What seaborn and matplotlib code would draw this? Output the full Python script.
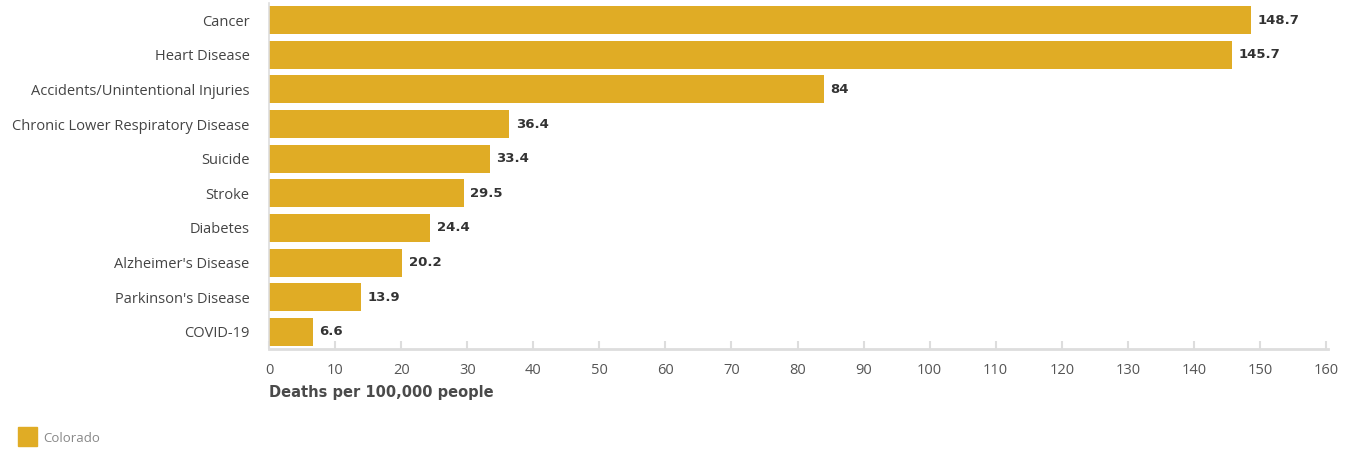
import matplotlib
matplotlib.use("Agg")
import matplotlib.pyplot as plt
import seaborn as sns
import pandas as pd

causes = [
    "Cancer", "Heart Disease", "Accidents/Unintentional Injuries",
    "Chronic Lower Respiratory Disease", "Suicide", "Stroke", "Diabetes",
    "Alzheimer's Disease", "Parkinson's Disease", "COVID-19",
]
rates = [148.7, 145.7, 84, 36.4, 33.4, 29.5, 24.4, 20.2, 13.9, 6.6]
rate_labels = ["148.7", "145.7", "84", "36.4", "33.4", "29.5", "24.4", "20.2", "13.9", "6.6"]
x_ticks = list(range(0, 161, 10))

BAR = "#E0AC25"
BOLD_FAMILY = ["DejaVu Sans"]
sns.set_theme(style="white")
plt.rcParams["font.family"] = ["Open Sans", "DejaVu Sans"]

df = pd.DataFrame({"cause": causes, "rate": rates})

W, H = 1345, 450
fig = plt.figure(figsize=(W / 100, H / 100), dpi=100)
left, right, top, bottom = 269, 1328, 2.7, 349.3
ax = fig.add_axes([left / W, 1 - bottom / H, (right - left) / W, (bottom - top) / H])
sns.barplot(data=df, x="rate", y="cause", color=BAR, saturation=1,
            width=0.81, ax=ax, orient="h", linewidth=0)

ax.set_xlim(0, 160.3)
ax.set_ylim(len(causes) - 0.5, -0.5)
ax.set_xticks(x_ticks)
ax.set_xticklabels([str(t) for t in x_ticks], fontsize=10.5, color="#555555")
ax.tick_params(axis="x", bottom=True, direction="in", length=6, width=1.5,
               color="#dddddd", pad=10)
ax.tick_params(axis="y", left=False, length=0, pad=14, labelsize=10.5,
               labelcolor="#444444")
ax.set_ylabel("")
ax.set_xlabel("")
for s in ["top", "right"]:
    ax.spines[s].set_visible(False)
ax.spines["left"].set_color("#dddddd")
ax.spines["left"].set_linewidth(1.2)
ax.spines["bottom"].set_color("#dddddd")
ax.spines["bottom"].set_linewidth(2)

for i, (v, lab) in enumerate(zip(rates, rate_labels)):
    ax.text(v + 1.0, i, lab, va="center", ha="left", fontsize=9.5,
            fontweight="bold", color="#333333", family=BOLD_FAMILY)

fig.text(left / W, 1 - 392 / H, "Deaths per 100,000 people", fontsize=10.5,
         fontweight="bold", color="#4a4a4a", ha="left", va="center",
         family=BOLD_FAMILY)

# legend swatch
fig.patches.append(plt.Rectangle((18 / W, 1 - 446 / H), 19 / W, 19 / H,
                                 transform=fig.transFigure, color=BAR))
fig.text(43 / W, 1 - 438 / H, "Colorado", fontsize=9.5, color="#888888",
         ha="left", va="center")

fig.savefig("out.png", dpi=100, facecolor="white")
